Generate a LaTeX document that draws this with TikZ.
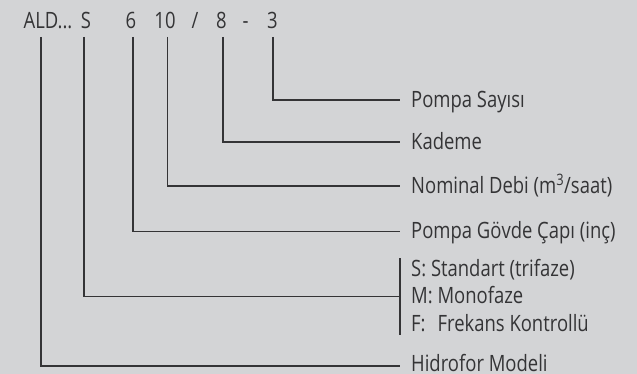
\documentclass[tikz,border=0pt]{standalone}
\usepackage{fontspec}
\setmainfont{Open Sans}[FakeStretch=0.82]
\definecolor{bg}{RGB}{211,212,214}
\definecolor{ink}{RGB}{52,52,54}
\begin{document}
\begin{tikzpicture}[x=1pt,y=-1pt,
  txt/.style={inner sep=0pt, text=ink, font=\fontsize{22.5}{27}\selectfont},
  lbl/.style={txt, anchor=base west},
  tok/.style={txt, anchor=base},
  ln/.style={draw=ink, line width=1.3pt}]
\fill[bg] (0,0) rectangle (637,374);
\useasboundingbox (0,0) rectangle (637,374);
% top code
\node[txt, anchor=base west] (tald) at (23.5,29) {ALD...};
\node[tok] (tS)  at (86,29) {S};
\node[tok] (t6)  at (131,29) {6};
\node[tok] (t10) at (165,29) {10};
\node[tok] (tsl) at (195,29) {/};
\node[tok] (t8)  at (221.5,29) {8};
\node[tok] (tdash) at (245.5,29) {-};
\node[tok] (t3)  at (272.5,29) {3};
% line tops
\coordinate (cA)  at (41,37);
\coordinate (cS)  at (84,37);
\coordinate (c6)  at (133,37);
\coordinate (c10) at (167.5,37);
\coordinate (c8)  at (223,37);
\coordinate (c3)  at (273,37);
% line ends
\coordinate (e3)  at (400,100);
\coordinate (e8)  at (400,142);
\coordinate (e10) at (400,186);
\coordinate (e6)  at (400,231.5);
\coordinate (eS)  at (400,296.5);
\coordinate (eA)  at (400,366);
\coordinate (bT)  at (400,258);
\coordinate (bB)  at (400,335);
% labels
\node[lbl] (l3)  at (411,107.5) {Pompa Sayısı};
\node[lbl] (l8)  at (411,149.5) {Kademe};
\node[lbl] (l10) at (411,193.5) {Nominal Debi (m\textsuperscript{3}/saat)};
\node[lbl] (l6)  at (411,239) {Pompa Gövde Çapı (inç)};
\node[lbl] (lS1) at (411,276) {S: Standart (trifaze)};
\node[lbl] (lS2) at (411,303.5) {M: Monofaze};
\node[lbl] (lS3) at (411,331) {F:\hspace{12pt}Frekans Kontrollü};
\node[lbl] (lA)  at (411,371) {Hidrofor Modeli};
% connectors
\draw[ln] (c3) |- (e3);
\draw[ln] (c8) |- (e8);
\draw[ln] (c10) |- (e10);
\draw[ln] (c6) |- (e6);
\draw[ln] (cS) |- (eS);
\draw[ln] (bT) -- (bB);
\draw[ln] (cA) |- (eA);
\end{tikzpicture}
\end{document}
